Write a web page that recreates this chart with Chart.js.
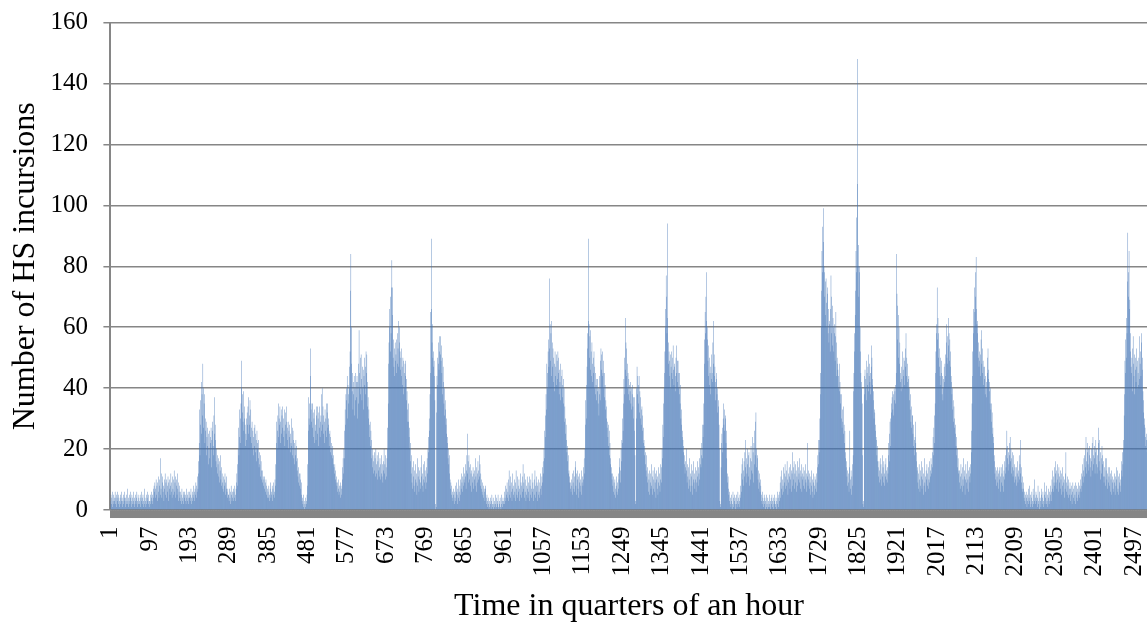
<!DOCTYPE html>
<html>
<head>
<meta charset="utf-8">
<script src="https://cdn.jsdelivr.net/npm/chart.js@4/dist/chart.umd.min.js"></script>
<style>
html, body { margin: 0; padding: 0; background: #fff; overflow: hidden; }
#wrap { width: 1147px; height: 622px; overflow: hidden; }
</style>
</head>
<body>
<div id="wrap"><canvas id="barChart" width="1186" height="622"></canvas></div>
<script>
// HS incursions per quarter hour, one array per day (96 quarters)
var day01 = [3,5,2,4,6,1,3,5,2,4,3,6, 2,4,5,1,3,6,4,2,5,3,1,4, 5,2,3,6,4,1,3,5,2,4,6,3, 1,4,2,5,3,7,2,4,1,3,5,2,
             4,6,3,1,5,2,4,3,6,2,1,4, 3,5,2,4,6,3,1,5,2,4,3,2, 5,1,4,3,6,2,4,5,1,3,7,2, 4,3,1,5,2,4,6,3,2,5,1,3];
var day02 = [3,5,2,4,6,3,5,2,7,4,8,6, 9,4,7,10,5,8,3,9,6,11,4,8, 10,5,17,7,12,4,9,11,6,8,3,10, 7,12,5,9,4,10,8,6,11,3,9,7,
             10,5,8,12,6,9,4,11,7,5,10,13, 6,9,11,4,8,10,5,12,7,3,9,6, 8,4,6,3,5,2,7,4,3,6,2,5, 4,6,3,5,2,7,4,3,5,6,2,4];
var day03 = [4,6,3,5,7,2,4,6,3,5,8,4, 6,3,7,5,9,4,8,6,11,7,16,12, 22,33,18,28,36,42,25,38,31,48,27,40, 35,38,22,30,26,29,18,24,21,27,15,25,
             20,26,17,24,22,27,14,23,26,29,21,18, 31,37,25,28,23,16,20,14,18,12,15,17, 11,16,9,13,18,10,14,8,12,9,7,11, 6,10,8,12,5,9,7,11,6,4,7,5];
var day04 = [5,3,7,4,6,2,8,5,3,6,4,7, 3,6,4,8,5,3,7,9,12,8,15,20, 27,18,24,33,22,30,35,40,49,32,38,29, 39,26,34,30,28,21,25,30,23,32,28,34,
             37,25,31,28,36,24,33,27,22,29,20,26, 24,18,27,21,28,19,25,23,16,26,20,22, 17,23,14,19,15,18,11,16,13,10,13,9, 11,8,10,7,11,9,6,10,8,5,7,4];
var day05 = [6,4,8,5,3,7,9,4,6,5,8,3, 7,5,9,6,4,10,8,15,22,29,20,26, 31,35,24,30,28,34,22,29,33,25,31,27, 34,24,30,26,33,21,28,32,25,34,29,23,
             27,29,20,26,24,28,19,25,22,30,21,27, 18,26,23,17,22,15,20,18,23,16,21,13, 17,11,14,9,12,8,12,10,7,9,5,3, 4,2,5,1,3,0,2,4,1,3,2,5];
var day06 = [8,15,26,37,30,35,28,44,53,33,29,35, 35,27,32,24,30,22,33,26,28,23,31,34, 34,25,30,21,32,27,34,24,29,31,26,38, 40,28,34,25,31,22,29,33,26,30,24,35,
             32,35,27,30,28,21,25,26,19,24,18,22, 20,17,21,15,18,14,12,15,10,13,9,11, 8,9,6,10,7,5,8,6,9,4,8,5, 7,10,14,17,12,20,17,26,33,28,38,40];
var day07 = [36,44,30,41,38,35,47,40,52,72,84,60, 48,39,45,33,42,38,44,31,40,36,45,42, 37,44,30,42,48,35,59,45,40,50,38,51, 43,36,47,40,46,33,44,50,41,38,47,52,
             45,51,34,42,37,30,33,28,24,29,21,26, 23,17,20,14,18,12,16,19,13,17,11,20, 15,12,18,10,16,13,19,11,14,17,10,15, 12,18,11,15,9,16,13,20,12,15,10,18];
var day08 = [14,11,17,20,27,35,48,55,60,66,52,70, 58,73,82,64,73,50,56,47,53,44,55,49, 51,45,56,48,58,53,62,47,55,60,52,46, 50,44,53,47,41,50,38,49,45,40,48,44,
             49,36,43,39,33,29,35,29,24,27,20,22, 16,12,18,9,14,7,11,16,8,13,6,10, 15,9,12,5,17,8,11,14,6,10,13,7, 9,14,11,18,8,12,6,15,10,16,9,13];
var day09 = [11,7,14,9,17,12,20,24,19,30,26,38, 45,65,89,66,55,61,50,47,52,49,44,36, 2,0,1,32,44,50,41,48,55,46,52,57, 51,57,49,54,45,50,38,47,42,35,40,31,
             36,33,28,25,30,22,24,17,20,15,18,12, 10,7,9,5,8,4,6,3,7,5,2,6, 4,8,3,6,9,5,2,7,4,10,6,3, 8,5,10,7,12,9,6,11,8,14,10,12];
var day10 = [9,15,11,7,13,18,25,12,16,9,18,14, 10,15,8,12,6,13,11,9,14,7,12,10, 13,8,17,11,6,14,9,12,16,10,13,18, 11,15,8,12,7,10,6,9,5,8,4,7,
             6,3,8,7,4,2,5,3,1,4,2,0, 3,1,4,2,0,3,5,1,2,4,0,2, 1,3,5,2,0,4,1,3,2,5,1,0, 3,2,4,1,0,2,5,3,1,4,2,3];
var day11 = [2,6,4,8,3,7,5,9,4,6,10,3, 13,5,8,4,11,6,9,3,7,12,5,8, 4,10,6,9,3,13,7,5,11,4,8,6, 10,3,7,12,5,9,4,8,11,6,15,7,
             9,4,12,6,10,3,8,5,11,7,4,9, 6,11,3,8,5,10,7,4,12,6,9,3, 7,10,5,13,8,4,11,6,9,3,8,5, 10,6,4,9,7,12,5,8,11,14,9,16];
var day12 = [12,20,17,26,31,24,38,33,48,40,45,52, 56,47,76,53,61,49,58,44,62,55,47,53, 50,42,48,39,52,44,47,51,41,49,43,52, 45,50,38,46,42,48,36,44,40,46,37,41,
             43,35,40,29,34,30,25,28,23,19,21,16, 18,12,13,9,11,7,9,6,10,8,12,5, 9,13,7,11,6,14,16,8,12,5,10,13, 7,11,4,9,12,6,10,8,13,5,9,11];
var day13 = [8,14,10,17,12,20,28,36,30,41,47,53, 58,89,62,61,50,57,46,59,52,44,55,48, 42,50,45,52,40,47,38,45,41,36,43,39, 43,35,40,31,38,44,36,49,53,46,51,44,
             52,45,49,40,45,37,41,33,36,30,34,27, 29,24,28,21,26,18,22,15,17,14,12,10, 12,8,11,6,9,5,10,7,4,8,11,6, 9,5,12,7,10,14,17,9,13,20,16,23];
var day14 = [22,30,26,35,43,38,50,46,63,55,53,44, 48,40,45,38,43,36,41,39,42,35,40,33, 38,41,34,37,30,37,26,18,3,2,30,40, 47,38,44,35,41,44,32,39,30,37,28,33,
             34,26,31,22,27,23,18,21,15,19,13,18, 11,14,9,12,6,10,13,5,9,12,7,15, 8,11,5,13,7,10,14,6,9,12,4,10, 13,7,11,5,9,14,8,12,6,10,15,9];
var day15 = [14,20,17,28,24,35,40,45,52,60,66,77, 70,58,94,63,55,48,52,49,44,51,40,47, 52,45,50,43,54,46,41,48,47,39,44,50, 54,45,49,42,49,40,45,38,45,35,41,30,
             28,33,24,26,23,19,21,15,18,12,16,14, 20,13,9,15,11,7,14,10,17,8,12,6, 11,15,8,13,5,10,16,9,12,7,14,10, 6,13,9,16,11,8,14,12,17,10,15,20];
var day16 = [14,18,22,17,28,24,28,35,48,56,65,58, 70,62,78,60,56,49,54,44,50,41,45,38, 47,43,51,45,42,55,48,62,51,44,47,42, 36,43,45,38,40,32,36,34,28,20,3,1,
             2,14,22,25,19,27,30,35,28,33,26,31, 30,22,26,17,12,9,11,7,5,3,6,2, 4,1,5,3,0,2,6,4,1,3,5,2, 0,4,2,5,1,3,6,2,4,1,3,5];
var day17 = [4,8,12,6,15,17,10,13,8,16,11,19, 14,23,9,17,12,20,15,11,18,19,8,14, 17,10,21,13,16,24,12,19,9,22,15,26, 18,29,32,20,14,17,18,10,13,7,12,9,
             6,10,8,3,5,2,6,4,1,3,5,2, 4,0,3,1,5,2,0,4,3,1,2,5, 1,3,0,4,2,5,1,3,4,0,2,3, 5,1,2,4,0,3,6,2,4,1,5,3];
var day18 = [6,9,4,11,7,13,5,10,8,14,6,12, 9,15,7,11,13,8,16,10,5,12,9,14, 11,7,15,10,13,6,12,19,8,14,10,16, 7,12,15,9,13,6,11,16,8,14,10,12,
             17,9,13,7,11,15,6,12,10,14,8,11, 13,7,10,15,9,12,6,11,22,8,13,10, 7,12,9,5,11,8,13,6,10,4,9,12, 8,5,11,7,10,6,12,9,14,18,15,23];
var day19 = [19,23,30,38,45,60,72,85,78,93,88,99, 80,78,70,64,75,76,68,60,71,73,58,66, 55,62,61,52,66,77,70,58,67,54,63,60, 52,58,61,49,57,65,55,44,50,48,46,40,
             44,48,39,42,35,38,30,38,27,33,29,34, 25,28,22,26,19,17,14,16,11,13,8,12, 9,6,14,26,10,7,13,5,11,15,8,18, 39,45,52,58,64,72,85,78,96,107,148,80];
var day20 = [87,70,80,78,60,52,45,42,40,35,18,2, 1,3,38,44,46,40,43,36,49,45,41,47, 39,51,44,48,42,45,38,47,54,50,43,41, 36,39,30,33,32,26,28,24,23,18,21,16,
             14,11,16,9,13,17,10,15,8,12,18,11, 14,9,16,12,8,15,11,17,10,13,9,14, 12,18,22,16,25,29,21,30,35,32,37,39, 33,38,31,40,36,39,35,41,45,84,71,67];
var day21 = [56,64,50,60,48,55,42,45,39,47,43,52, 40,46,44,50,49,41,53,47,58,44,50,42, 48,40,43,44,36,40,33,38,29,34,27,31, 31,25,28,21,23,18,24,29,22,19,16,13,
             14,9,12,7,15,10,6,13,8,11,16,7, 10,14,5,12,8,17,9,11,6,13,10,15, 8,12,7,14,10,16,9,13,11,17,12,15, 19,14,24,18,27,22,31,35,45,52,61,58];
var day22 = [73,56,63,50,58,47,53,44,50,41,49,45, 38,44,36,43,40,47,42,48,44,51,55,61, 50,57,48,63,54,58,49,56,52,47,44,42, 38,40,33,36,29,34,27,30,25,28,21,24,
             18,20,14,17,12,13,9,13,7,11,15,8, 12,6,14,10,17,8,11,13,5,10,15,9, 12,7,16,10,13,6,11,14,9,15,12,19, 26,35,44,52,58,66,60,73,65,78,70,83];
var day23 = [66,61,58,62,50,55,47,52,49,44,51,56, 59,48,53,45,49,41,47,43,47,38,44,40, 42,37,45,50,53,43,46,39,42,35,40,33, 35,29,32,25,27,22,24,18,16,12,14,10,
             13,8,11,14,9,12,7,13,10,14,6,11, 14,9,12,8,15,11,6,13,10,16,12,18, 14,20,26,17,21,13,19,15,22,18,24,16, 20,12,17,14,19,11,18,13,15,9,14,11];
var day24 = [10,14,8,12,16,9,13,11,18,10,15,23, 12,9,14,7,11,6,9,7,4,6,3,5, 2,6,4,1,5,3,7,2,4,8,3,1, 5,2,4,6,1,3,7,2,5,10,3,4,
             2,6,3,5,1,4,8,2,3,6,0,4, 3,1,5,7,2,4,6,3,1,5,9,2, 4,6,2,8,3,5,1,7,4,2,6,3, 5,8,3,6,10,13,7,11,6,9,14,8];
var day25 = [12,16,9,13,7,15,10,12,6,14,9,11, 7,13,10,5,12,8,14,6,11,9,4,10, 7,12,19,6,9,5,11,8,4,10,7,5, 9,3,7,5,8,2,6,9,4,7,3,8,
             5,9,2,6,8,4,7,3,9,5,6,8, 4,7,10,6,12,8,11,15,9,13,17,11, 18,14,20,24,16,12,19,22,15,20,13,18, 21,14,17,11,20,16,22,13,24,18,15,21];
var day26 = [17,12,19,23,15,20,12,18,14,22,27,16, 23,13,19,10,17,12,21,15,18,11,16,9, 14,11,17,8,13,17,10,12,7,14,9,11, 14,8,12,6,10,13,5,9,11,7,10,6,
             9,12,5,11,8,14,10,6,13,7,11,5, 9,12,8,6,10,13,16,11,19,15,23,20, 31,38,49,45,56,50,63,58,75,91,70,78, 85,66,69,52,58,47,45,50,39,53,57,48];
var day27 = [44,51,38,50,46,42,53,47,40,49,45,41, 50,43,57,48,52,44,55,58,46,50,39,36, 32,28,30,27,24,21,25,23,19,22];

var tickLabels = [1, 97, 193, 289, 385, 481, 577, 673, 769, 865, 961, 1057, 1153, 1249,
                  1345, 1441, 1537, 1633, 1729, 1825, 1921, 2017, 2113, 2209, 2305, 2401, 2497];

var incursions = [].concat(day01, day02, day03, day04, day05, day06, day07, day08, day09,
    day10, day11, day12, day13, day14, day15, day16, day17, day18, day19, day20, day21,
    day22, day23, day24, day25, day26, day27);
var quarters = [];
for (var i = 0; i < incursions.length; i++) {
    quarters.push(i + 1);
}

var serif = 'Liberation Serif';
const CHART = document.getElementById("barChart");
var barChart = new Chart(CHART, {
    type: 'bar',
    data: {
        labels: quarters,
        datasets: [
            {
                data: incursions,
                backgroundColor: '#4274B5',
                borderWidth: 0,
                barPercentage: 0.95,
                categoryPercentage: 1
            }
        ]
    },
    options: {
        responsive: false,
        animation: false,
        devicePixelRatio: 1,
        layout: {padding: {top: 0, left: 16.1, right: 0, bottom: 0}},
        plugins: {legend: {display: false}, tooltip: {enabled: false}},
        scales: {
            x: {
                grid: {drawOnChartArea: false, tickLength: 8, color: '#868686', lineWidth: 1},
                border: {color: '#868686', width: 1.5},
                ticks: {
                    autoSkip: false,
                    minRotation: 90,
                    maxRotation: 90,
                    padding: 8.5,
                    color: '#000',
                    font: {family: serif, size: 25},
                    callback: function (value, index) {
                        var q = quarters[index];
                        return tickLabels.indexOf(q) >= 0 ? String(q) : '';
                    }
                },
                title: {
                    display: true,
                    text: 'Time in quarters of an hour',
                    color: '#000',
                    font: {family: serif, size: 32, lineHeight: 0.94},
                    padding: {top: 6.9, bottom: 0}
                }
            },
            y: {
                min: 0,
                max: 160,
                ticks: {stepSize: 20, padding: 15.5, color: '#000', font: {family: serif, size: 25, lineHeight: 0.56}},
                grid: {color: '#868686', lineWidth: 1.5, tickLength: 7},
                border: {color: '#868686', width: 2},
                title: {
                    display: true,
                    text: 'Number of HS incursions',
                    color: '#000',
                    font: {family: serif, size: 32, lineHeight: 0.5875},
                    padding: 0
                }
            }
        }
    }
});
</script>
</body>
</html>
